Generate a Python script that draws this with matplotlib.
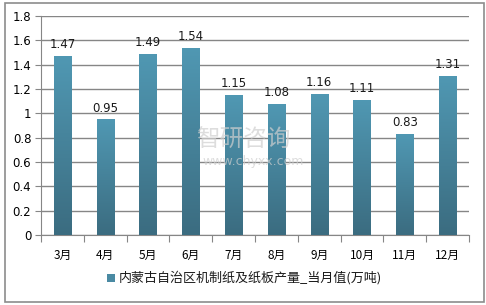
import matplotlib
matplotlib.use("Agg")
import matplotlib.pyplot as plt
import numpy as np
from matplotlib.patches import Rectangle
from matplotlib.colors import LinearSegmentedColormap

plt.rcParams['font.family'] = ['Noto Sans CJK SC', 'DejaVu Sans']

categories = ["3月", "4月", "5月", "6月", "7月", "8月", "9月", "10月", "11月", "12月"]
values = [1.47, 0.95, 1.49, 1.54, 1.15, 1.08, 1.16, 1.11, 0.83, 1.31]
series_name = "内蒙古自治区机制纸及纸板产量_当月值(万吨)"
yticks = [0, 0.2, 0.4, 0.6, 0.8, 1, 1.2, 1.4, 1.6, 1.8]
ytick_labels = ["0", "0.2", "0.4", "0.6", "0.8", "1", "1.2", "1.4", "1.6", "1.8"]

fig = plt.figure(figsize=(4.86, 3.05), dpi=100)
# outer frame
fig.patches.append(Rectangle((5/486, 3/305), 479/486, 299/305, transform=fig.transFigure,
                             fill=False, edgecolor="#8c8c8c", linewidth=1.2))

ax = fig.add_axes([41/486, 1-235/305, 428/486, 219/305])
x = np.arange(len(categories))
bars = ax.bar(x, values, width=0.4, color="#4a8aa3", zorder=3)

# vertical gradient in each bar
grad = np.linspace(0, 1, 256).reshape(-1, 1)
cmap = LinearSegmentedColormap.from_list("g", ["#3b6c80", "#5098b3"])
for b in bars:
    im = ax.imshow(grad, cmap=cmap, aspect="auto", origin="lower",
                   extent=[b.get_x(), b.get_x()+b.get_width(), 0, b.get_height()], zorder=4)
    im.set_clip_path(b)

for xi, v in zip(x, values):
    ax.text(xi, v + 0.04, f"{v:.2f}", ha="center", va="bottom", fontsize=8.5,
            color="#1a1a1a", family="DejaVu Sans", zorder=5)

ax.set_ylim(0, 1.8)
ax.set_yticks(yticks)
ax.set_yticklabels(ytick_labels, fontsize=8.5, family="DejaVu Sans")
ax.set_xticks(np.arange(-0.5, len(categories), 1), minor=False)
ax.set_xticklabels([])
ax.set_xticks(x, minor=True)
ax.set_xticklabels(categories, minor=True, fontsize=8.5)
ax.tick_params(axis="x", which="minor", length=0, pad=10)
ax.tick_params(axis="x", which="major", length=5, color="#868686")
ax.tick_params(axis="y", length=4, color="#868686", pad=3)
ax.grid(axis="y", color="#868686", linewidth=1, zorder=0)
for s in ["top", "right"]:
    ax.spines[s].set_visible(False)
ax.spines["left"].set_color("#868686")
ax.spines["bottom"].set_color("#868686")
ax.set_xlim(-0.5, len(categories) - 0.5)

# watermark
fig.text(0.5, 0.54, "智研咨询", fontsize=17, color="#cfcfcf", ha="center", va="center", alpha=0.7, zorder=10)
fig.text(0.52, 0.47, "www.chyxx.com", fontsize=9, color="#cfcfcf", ha="center", va="center",
         family="DejaVu Sans", alpha=0.7, zorder=10)

# legend
fig.patches.append(Rectangle((107/486, 1-282/305), 8/486, 8/305, transform=fig.transFigure,
                             facecolor="#4a8aa3", edgecolor="none"))
fig.text(119/486, 1-278/305, series_name, fontsize=9.4, va="center", ha="left", color="#1a1a1a")

fig.savefig("out.png", dpi=100)
